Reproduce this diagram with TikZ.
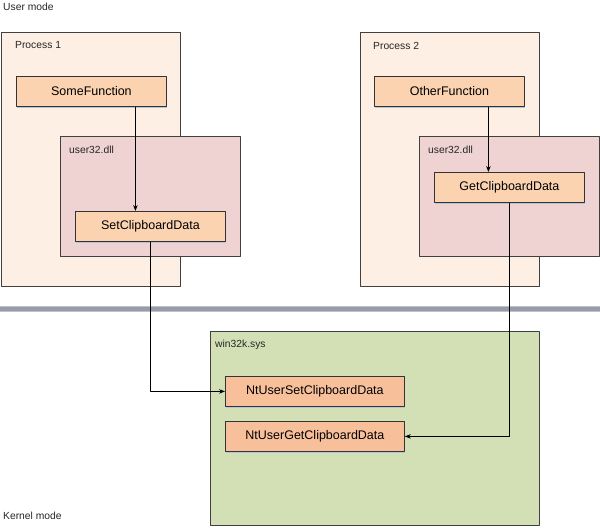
\documentclass[tikz,border=0pt]{standalone}
\usepackage{fontspec}
\setmainfont{Liberation Sans}
\usetikzlibrary{shadows,arrows.meta}
\definecolor{procfill}{HTML}{FDEFE3}
\definecolor{dllfill}{HTML}{EED3D2}
\definecolor{funcfill}{HTML}{FBD3B1}
\definecolor{sysfill}{HTML}{D3DFB5}
\definecolor{kfuncfill}{HTML}{F8C09A}
\definecolor{sepblue}{HTML}{B4C4DA}
\definecolor{sepgrey}{HTML}{9C9CA0}
\tikzset{
  container/.style={draw=black!75, line width=0.8pt, anchor=north west, inner sep=0pt},
  func/.style={draw=black!80, line width=0.8pt, fill=funcfill, anchor=north west, inner sep=0pt,
    minimum width=150pt, minimum height=30pt, font=\fontsize{12.5}{14}\selectfont,
    drop shadow={shadow xshift=0.8pt, shadow yshift=-1.5pt, fill=sepblue, opacity=1}},
  lbl/.style={anchor=west, inner sep=0pt, font=\fontsize{10.3}{12}\selectfont, text=black!85},
  conn/.style={->, line width=0.7pt}
}
\begin{document}
\begin{tikzpicture}[x=1pt, y=-1pt, >={Stealth[length=6pt, width=4.5pt]}, line join=round]
	\useasboundingbox (0,0) rectangle (600,528);
	% user side
	\node[lbl] (umode) at (3,7) {User mode};
	\node[container, fill=procfill, minimum width=179pt, minimum height=254pt] (proc1) at (1,32) {};
	\node[lbl] (proc1lbl) at (15,45.5) {Process 1};
	\node[func] (somef) at (16,76) {SomeFunction};
	\node[container, fill=dllfill, minimum width=180pt, minimum height=120pt] (dll1) at (60,136) {};
	\node[lbl] (dll1lbl) at (69,150) {user32.dll};
	\node[func] (setcb) at (75,211) {SetClipboardData};
	\draw[conn] ([xshift=44pt]somef.south) -- ([xshift=-15pt]setcb.north);

	\node[container, fill=procfill, minimum width=179pt, minimum height=254pt] (proc2) at (360,32) {};
	\node[lbl] (proc2lbl) at (373,45.5) {Process 2};
	\node[func] (otherf) at (374,76) {OtherFunction};
	\node[container, fill=dllfill, minimum width=180pt, minimum height=120pt] (dll2) at (419,136) {};
	\node[lbl] (dll2lbl) at (428,150) {user32.dll};
	\node[func] (getcb) at (434,172) {GetClipboardData};
	\draw[conn] ([xshift=39pt]otherf.south) -- ([xshift=-21pt]getcb.north);

	% boundary
	\draw[sepblue, line width=6pt] (0,309) -- (600,309);
	\draw[sepgrey, line width=3.5pt] (0,309) -- (600,309);

	% kernel side
	\node[container, fill=sysfill, minimum width=329pt, minimum height=194pt] (win32k) at (210,331) {};
	\node[lbl] (win32klbl) at (215,345) {win32k.sys};
	\node[func, fill=kfuncfill, minimum width=179pt] (ntset) at (225,376) {NtUserSetClipboardData};
	\node[func, fill=kfuncfill, minimum width=179pt] (ntget) at (225,421) {NtUserGetClipboardData};
	\node[lbl] (kmode) at (3,516) {Kernel mode};

	\draw[conn] (setcb.south) |- (ntset.west);
	\draw[conn] (getcb.south) |- (ntget.east);
\end{tikzpicture}
\end{document}
